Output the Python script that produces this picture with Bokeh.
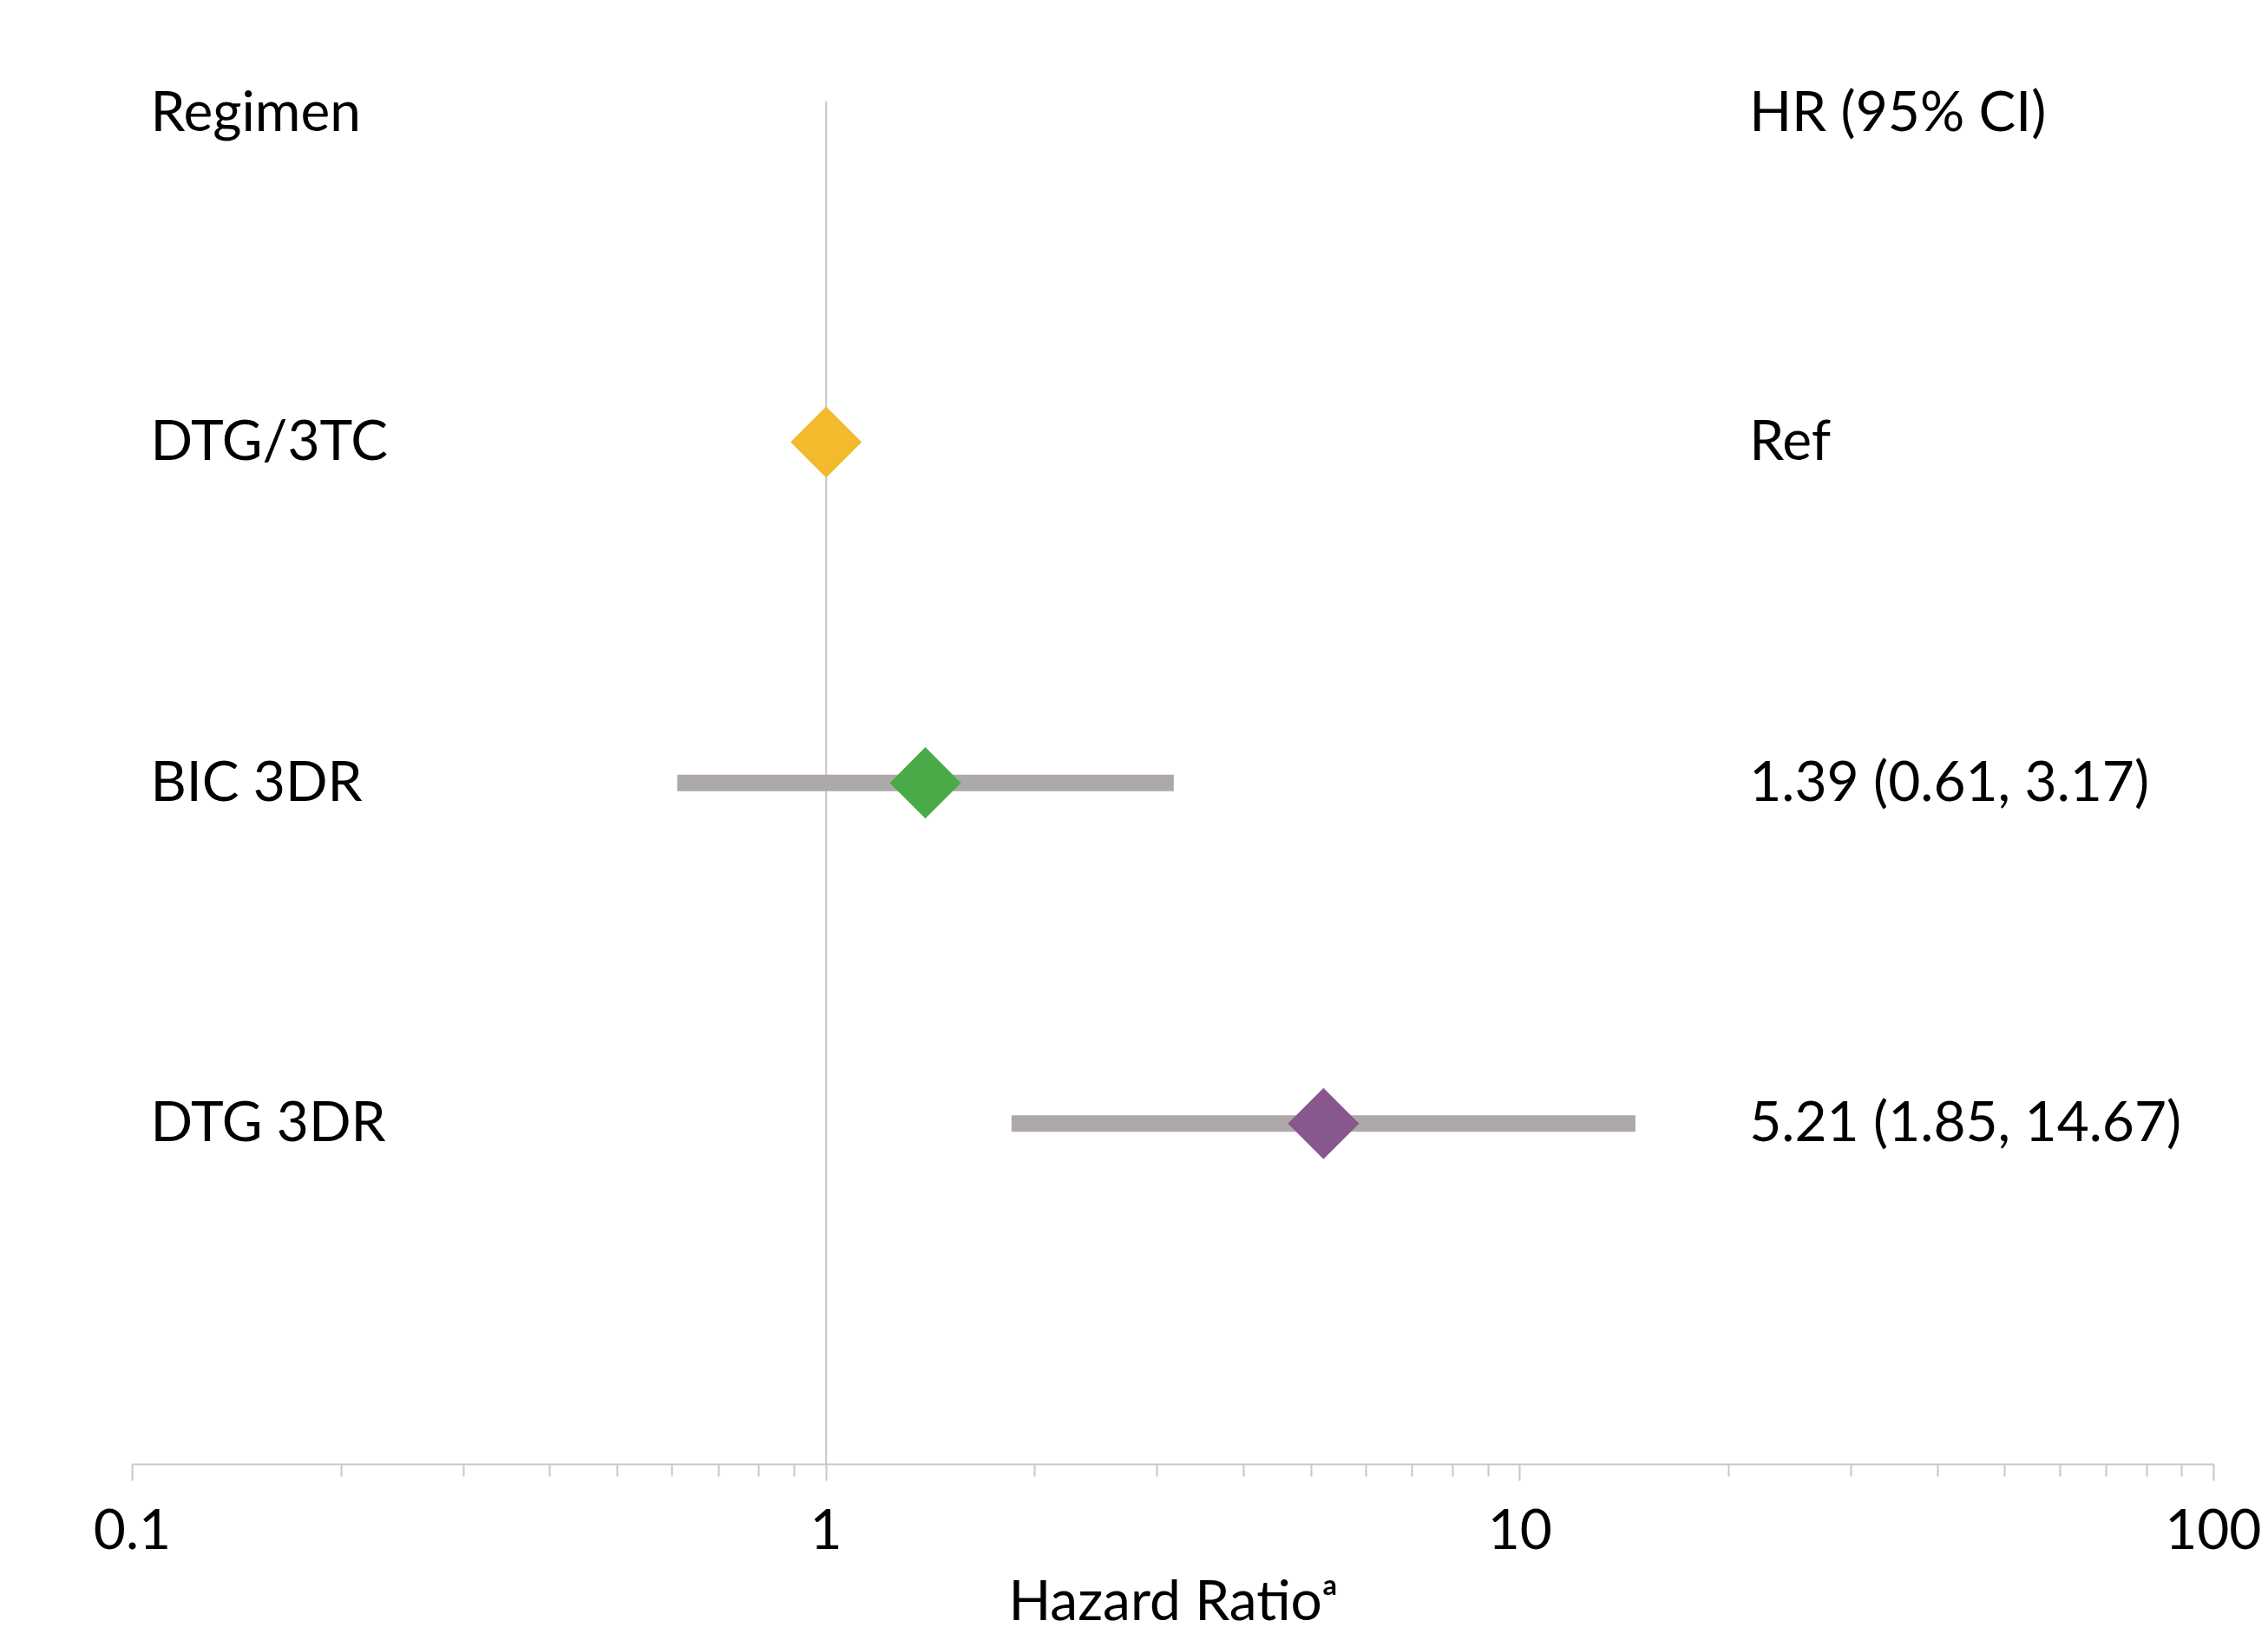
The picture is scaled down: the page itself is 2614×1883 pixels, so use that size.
from bokeh.plotting import figure
from bokeh.models import ColumnDataSource, FixedTicker, NumeralTickFormatter, Label, Range1d
from bokeh.core.properties import value
from bokeh.embed import file_html
from bokeh.resources import INLINE

# ---- data ----
regimens = ["DTG/3TC", "BIC 3DR", "DTG 3DR"]
row_pos = [3, 2, 1]
hr = [1.0, 1.39, 5.21]
ci_low = [None, 0.61, 1.85]
ci_high = [None, 3.17, 14.67]
hr_text = ["Ref", "1.39 (0.61, 3.17)", "5.21 (1.85, 14.67)"]
colors = ["#F2BA2C", "#4AAA48", "#87578D"]
major_ticks = [0.1, 1, 10, 100]
minor_ticks = [0.2, 0.3, 0.4, 0.5, 0.6, 0.7, 0.8, 0.9,
               2, 3, 4, 5, 6, 7, 8, 9,
               20, 30, 40, 50, 60, 70, 80, 90]

FONT = "Lato"
FS = "64px"
X_LEFT = 0.1062
X_RIGHT = 21.41

p = figure(width=2606, height=1883, x_axis_type="log",
           x_range=Range1d(0.1, 100), y_range=Range1d(0, 4.1),
           output_backend="svg", toolbar_location=None,
           min_border_left=152, min_border_right=55,
           min_border_top=77, min_border_bottom=196)
p.outline_line_color = None
p.xgrid.visible = False
p.ygrid.visible = False
p.yaxis.visible = False
p.background_fill_color = "white"
p.border_fill_color = "white"

# reference line at HR = 1
p.segment(x0=[1], y0=[0], x1=[1], y1=[4], line_color="#C8C8C8", line_width=2)

# CI bars
ci_src = ColumnDataSource(dict(
    y=[r for r, lo in zip(row_pos, ci_low) if lo is not None],
    lo=[lo for lo in ci_low if lo is not None],
    hi=[hi for hi in ci_high if hi is not None],
))
p.segment(x0="lo", y0="y", x1="hi", y1="y", source=ci_src,
          line_color="#ADA9A8", line_width=19, line_cap="butt")

# point estimates (diamonds)
pt_src = ColumnDataSource(dict(x=hr, y=row_pos, color=colors,
                               label=regimens, hrt=hr_text))
p.scatter(x="x", y="y", source=pt_src, marker="square", angle=0.785398,
          size=58, fill_color="color", line_color=None)

# row labels
p.text(x=X_LEFT, y="y", text="label", source=pt_src,
       text_font=value(FONT), text_font_size=FS, text_color="black",
       text_baseline="alphabetic", text_align="left", y_offset=-4)
p.text(x=X_RIGHT, y="y", text="hrt", source=pt_src,
       text_font=value(FONT), text_font_size=FS, text_color="black",
       text_baseline="alphabetic", text_align="left", y_offset=-4)

# headers
for txt, xx in [("Regimen", X_LEFT), ("HR (95% CI)", X_RIGHT)]:
    p.add_layout(Label(x=xx, y=3.976, text=txt, text_font=FONT,
                       text_font_size=FS, text_color="black",
                       text_baseline="alphabetic", text_align="left"))

ax = p.xaxis[0]
ax.ticker = FixedTicker(ticks=major_ticks, minor_ticks=minor_ticks)
ax.formatter = NumeralTickFormatter(format="0.[0]")
ax.axis_line_color = "#C8C8C8"
ax.axis_line_width = 2
ax.major_tick_line_color = "#C8C8C8"
ax.major_tick_line_width = 2
ax.minor_tick_line_color = "#C8C8C8"
ax.minor_tick_line_width = 2
ax.major_tick_in = 0
ax.major_tick_out = 19
ax.minor_tick_in = 0
ax.minor_tick_out = 14
ax.major_label_standoff = 32
ax.major_label_text_font = FONT
ax.major_label_text_font_size = FS
ax.major_label_text_color = "black"
ax.axis_label = "Hazard Ratio\u1d43"
ax.axis_label_text_font = FONT
ax.axis_label_text_font_size = FS
ax.axis_label_text_font_style = "normal"
ax.axis_label_text_color = "black"
ax.axis_label_standoff = 16

open("out.html", "w").write(file_html(p, INLINE))
